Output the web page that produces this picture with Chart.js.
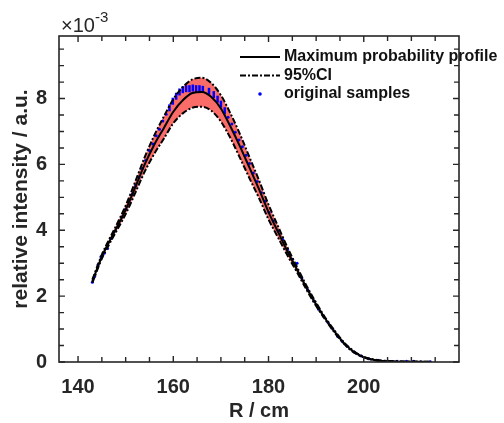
<!DOCTYPE html>
<html lang="en">
<head>
<meta charset="UTF-8">
<title>Maximum probability profile</title>
<style>
html, body { margin: 0; padding: 0; background: #fff; }
</style>
</head>
<body>
<canvas id="myChart" width="504" height="423"></canvas>
<script src="https://cdn.jsdelivr.net/npm/chart.js@4.4.0/dist/chart.umd.min.js"></script>
<script>
// radius R / cm and intensity in units of 1e-3
var radius = [143, 145, 146, 148, 150, 152, 154, 156, 158, 160, 162, 164, 166, 168, 170, 172, 174, 176, 178, 180,
  182, 184, 186, 188, 190, 192, 194, 196, 198, 200, 202, 204, 206, 208, 210, 212, 214];
var profile = [2.45, 3.2, 3.5, 4.05, 4.62, 5.3, 6.0, 6.6, 7.1, 7.6, 7.95, 8.17, 8.2, 8.05, 7.7, 7.15, 6.55, 5.9, 5.25, 4.55,
  3.95, 3.35, 2.8, 2.25, 1.75, 1.3, 0.9, 0.55, 0.3, 0.15, 0.07, 0.03, 0.02, 0.01, 0.01, 0.01, 0.005];
var ciUpper = [2.5, 3.26, 3.57, 4.14, 4.75, 5.47, 6.22, 6.88, 7.45, 7.98, 8.35, 8.58, 8.63, 8.47, 8.1, 7.55, 6.92, 6.22, 5.52, 4.78,
  4.12, 3.47, 2.88, 2.31, 1.8, 1.33, 0.93, 0.57, 0.32, 0.16, 0.08, 0.04, 0.03, 0.02, 0.015, 0.012, 0.01];
var ciLower = [2.4, 3.14, 3.43, 3.96, 4.49, 5.13, 5.78, 6.32, 6.78, 7.25, 7.55, 7.72, 7.75, 7.63, 7.3, 6.8, 6.2, 5.58, 4.98, 4.33,
  3.78, 3.23, 2.72, 2.19, 1.7, 1.27, 0.87, 0.53, 0.28, 0.14, 0.06, 0.02, 0.01, 0.0, 0.0, 0.0, 0.0];

var sampleR = [143, 143.5, 144.2, 144.8, 145.5, 146.2, 147, 147.8, 148.5, 149.2, 150, 150.7, 151.4, 152.1, 152.8,
  153.5, 154.2, 155, 155.7, 156.4, 157.1, 157.8, 158.5, 159.2, 159.9, 160.6, 161.3, 162, 162.7, 163.4, 164.1,
  164.8, 165.5, 166.2, 167.5, 168.5, 169.3, 170, 170.8, 171.5, 172.3, 173, 173.8, 174.5, 175.3, 176, 176.8,
  177.6, 178.5, 179.3, 180.1, 181, 182, 183, 184, 185, 186, 187, 188.2, 189.5, 190.5, 191.5, 192.5, 193.5,
  194.5, 195.5, 196.5, 198, 199.5, 201, 203, 205, 207, 209, 210.5, 212, 214];
var sampleY = [2.42, 2.6, 2.95, 3.2, 3.3, 3.45, 3.75, 3.98, 4.15, 4.4, 4.65, 4.9, 5.1, 5.35, 5.62,
  5.88, 6.12, 6.42, 6.62, 6.87, 7.07, 7.32, 7.52, 7.72, 7.92, 8.07, 8.2, 8.27, 8.3, 8.3, 8.32,
  8.3, 8.3, 8.28, 8.22, 8.12, 7.98, 7.83, 7.63, 7.43, 7.23, 6.98, 6.74, 6.54, 6.28, 6.03, 5.74,
  5.48, 5.14, 4.88, 4.54, 4.28, 3.98, 3.72, 3.42, 3.12, 3.0, 2.55, 2.2, 1.85, 1.6, 1.4, 1.2, 1.0,
  0.78, 0.62, 0.48, 0.3, 0.18, 0.1, 0.05, 0.03, 0.02, 0.02, 0.02, 0.0, 0.01];

var xTicks = [140, 160, 180, 200];
var yTicks = [0, 2, 4, 6, 8];
var legendLabels = ['Maximum probability profile', '95%CI', 'original samples'];

var axisColor = '#262626';
var fam = '"Liberation Sans", Arial, sans-serif';

function pts(xs, ys) {
  return xs.map(function(x, i) { return { x: x, y: ys[i] }; });
}

// box, inward ticks, legend and exponent
var decorations = {
  id: 'decorations',
  afterDraw: function(chart) {
    var ctx = chart.ctx;
    var a = chart.chartArea;
    var xs = chart.scales.x, ys = chart.scales.y;
    ctx.save();
    ctx.strokeStyle = axisColor;
    ctx.lineWidth = 1.6;
    ctx.strokeRect(a.left, a.top, a.right - a.left, a.bottom - a.top);
    ctx.lineWidth = 1.4;
    ctx.beginPath();
    for (var v = 140; v <= 215; v += 5) {
      var px = xs.getPixelForValue(v);
      var len = (v % 20 === 0) ? 6 : 5;
      ctx.moveTo(px, a.bottom); ctx.lineTo(px, a.bottom - len);
      ctx.moveTo(px, a.top); ctx.lineTo(px, a.top + len);
    }
    for (var w = 0; w <= 9.5; w += 0.5) {
      var py = ys.getPixelForValue(w);
      var l2 = (w % 2 === 0) ? 6 : 5;
      ctx.moveTo(a.left, py); ctx.lineTo(a.left + l2, py);
      ctx.moveTo(a.right, py); ctx.lineTo(a.right - l2, py);
    }
    ctx.stroke();

    // exponent
    ctx.fillStyle = axisColor;
    ctx.textBaseline = 'alphabetic';
    ctx.textAlign = 'left';
    ctx.font = '20px ' + fam;
    ctx.fillText('\u00d710', 61, 32);
    var wd = ctx.measureText('\u00d710').width;
    ctx.font = '15px ' + fam;
    ctx.fillText('-3', 61 + wd, 22);

    // legend
    var rows = [57, 75.5, 94];
    ctx.font = 'bold 16px ' + fam;
    ctx.textBaseline = 'middle';
    ctx.strokeStyle = '#000';
    ctx.lineWidth = 2;
    ctx.beginPath();
    ctx.moveTo(240, rows[0]); ctx.lineTo(280, rows[0]);
    ctx.stroke();
    ctx.setLineDash([6, 2, 2, 2]);
    ctx.beginPath();
    ctx.moveTo(240, rows[1]); ctx.lineTo(280, rows[1]);
    ctx.stroke();
    ctx.setLineDash([]);
    ctx.fillStyle = '#0000ff';
    ctx.beginPath();
    ctx.arc(260, rows[2], 1.8, 0, Math.PI * 2);
    ctx.fill();
    ctx.fillStyle = '#111';
    for (var i = 0; i < legendLabels.length; i++) {
      ctx.fillText(legendLabels[i], 284, rows[i]);
    }
    ctx.restore();
  }
};

var tickFont = { family: fam, size: 20, weight: 'bold' };
var yTitleFont = { family: fam, size: 21, weight: 'bold' };

new Chart(document.getElementById('myChart').getContext('2d'), {
  type: 'line',
  data: {
    datasets: [
      {
        label: 'original samples',
        data: pts(sampleR, sampleY),
        showLine: false,
        order: 4,
        borderColor: '#0000ff',
        backgroundColor: '#0000ff',
        pointStyle: function(c) { return c.raw && c.raw.y > 7.6 ? 'line' : 'circle'; },
        pointRotation: 90,
        pointRadius: function(c) { return c.raw && c.raw.y > 7.6 ? 3.5 : 1.5; },
        pointBorderWidth: function(c) { return c.raw && c.raw.y > 7.6 ? 2.5 : 0; }
      },
      {
        label: '95%CI upper',
        data: pts(radius, ciUpper),
        order: 3,
        borderColor: '#000',
        borderWidth: 2,
        borderDash: [6, 2, 2, 2],
        pointRadius: 0,
        cubicInterpolationMode: 'monotone',
        fill: '+1',
        backgroundColor: 'rgb(250,108,104)'
      },
      {
        label: '95%CI lower',
        data: pts(radius, ciLower),
        order: 2,
        borderColor: '#000',
        borderWidth: 2,
        borderDash: [6, 2, 2, 2],
        pointRadius: 0,
        cubicInterpolationMode: 'monotone',
        fill: false
      },
      {
        label: 'Maximum probability profile',
        data: pts(radius, profile),
        order: 1,
        borderColor: '#000',
        borderWidth: 2,
        pointRadius: 0,
        cubicInterpolationMode: 'monotone',
        fill: false
      }
    ]
  },
  options: {
    responsive: false,
    animation: false,
    layout: { padding: { left: 0, top: 36, right: 45, bottom: 0 } },
    plugins: {
      legend: { display: false },
      tooltip: { enabled: false },
      filler: { drawTime: 'beforeDatasetsDraw' }
    },
    scales: {
      x: {
        type: 'linear',
        min: 136,
        max: 220,
        grid: { display: false, drawTicks: false },
        border: { display: false },
        afterBuildTicks: function(s) { s.ticks = xTicks.map(function(v) { return { value: v }; }); },
        afterFit: function(s) { s.height = 61; },
        ticks: { font: tickFont, color: axisColor, padding: 13, maxRotation: 0 },
        title: { display: true, text: 'R / cm', font: tickFont, color: axisColor, padding: { top: 0, bottom: 0 } }
      },
      y: {
        type: 'linear',
        min: 0,
        max: 9.9,
        grid: { display: false, drawTicks: false },
        border: { display: false },
        afterBuildTicks: function(s) { s.ticks = yTicks.map(function(v) { return { value: v }; }); },
        afterFit: function(s) { s.width = 59; },
        ticks: { font: tickFont, color: axisColor, padding: 12 },
        title: { display: true, text: 'relative intensity / a.u.', font: yTitleFont, color: axisColor, padding: { top: 9, bottom: 0 } }
      }
    }
  },
  plugins: [decorations]
});
</script>
</body>
</html>
